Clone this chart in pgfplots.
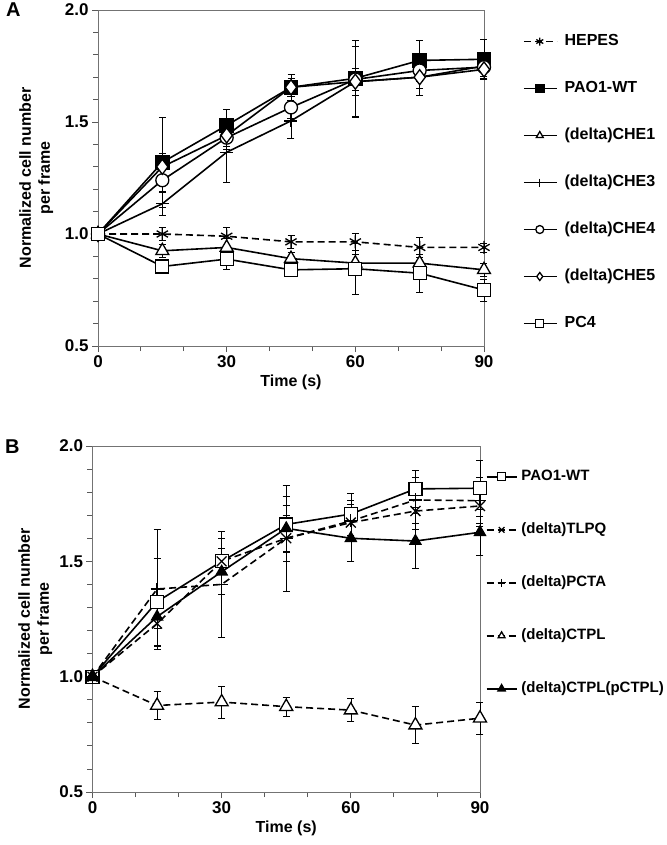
\documentclass[border=0pt]{standalone}
\usepackage{fontspec}
\setmainfont{Liberation Sans}
\usepackage{pgfplots}
\pgfplotsset{compat=1.18}

\pgfplotsset{
  panel/.style={
    scale only axis,
    xmin=0, xmax=90, ymin=0.5, ymax=2,
    xtick={0,30,60,90}, minor xtick={10,20,40,50,70,80},
    ytick={0.5,1,1.5,2},
    minor ytick={0.6,0.7,0.8,0.9,1.1,1.2,1.3,1.4,1.6,1.7,1.8,1.9},
    tick pos=left, tick align=outside,
    major tick length=6pt, minor tick length=5pt,
    every tick/.style={black!65, line width=0.8pt},
    axis line style={black!55, line width=0.8pt},
    /pgf/number format/assume math mode=true,
    yticklabel style={/pgf/number format/.cd, fixed, fixed zerofill, precision=1},
    tick label style={font=\fontsize{17}{17}\selectfont\bfseries},
    label style={font=\fontsize{16}{19}\selectfont\bfseries},
    xlabel={Time (s)},
    ylabel={Normalized cell number\\per frame},
    clip=false,
    legend cell align=left,
    legend style={draw=none, fill=none, inner sep=0pt, outer sep=0pt,
      anchor=north west,
      nodes={inner sep=0pt, text height=12pt, text depth=4pt}},
    legend image post style={mark size=4pt},
  },
  ser/.style={black, line width=1.6pt, mark size=6.5pt,
    mark options={solid, line width=1.3pt, fill=white},
    error bars/y dir=both, error bars/y explicit,
    error bars/error bar style={solid, line width=0.6pt, black},
    error bars/error mark options={rotate=90, mark size=3.5pt, line width=0.6pt, solid}},
  dash/.style={dash pattern=on 7pt off 4pt},
}

\begin{document}
\begin{tikzpicture}
\useasboundingbox (0,0) rectangle (666pt,-845pt);

% ---------------- panel A ----------------
\begin{axis}[panel,
  at={(98pt,-10pt)}, anchor=north west,
  width=386pt, height=336pt,
  ylabel style={align=center, at={(axis description cs:-0.16,0.5)}, anchor=center},
  legend style={at={(axis description cs:1.101,0.93)}, row sep=31pt, column sep=7pt,
    font=\fontsize{16}{16}\selectfont\bfseries},
  legend image code/.code={\draw[mark repeat=2,mark phase=2,#1] plot coordinates {(0pt,0pt) (16pt,0pt) (33pt,0pt)};},
]
\addplot[ser, dash, mark=asterisk, mark size=6.5pt] table[x=t, y=v, y error=e] {
t v e
0 1.00 0
15 1.00 0.03
30 0.99 0.04
45 0.965 0.03
60 0.965 0.04
75 0.94 0.045
90 0.94 0.02
};
\addplot[ser, mark=square*, mark options={fill=black}] table[x=t, y=v, y error=e] {
t v e
0 1.00 0
15 1.32 0.20
30 1.485 0.07
45 1.655 0.06
60 1.695 0.17
75 1.775 0.09
90 1.78 0.09
};
\addplot[ser, mark=triangle*, mark size=7.5pt] table[x=t, y=v, y error=e] {
t v e
0 1.00 0
15 0.925 0.03
30 0.94 0.04
45 0.89 0.03
60 0.87 0.04
75 0.87 0.04
90 0.84 0.03
};
\addplot[ser, mark=+, mark size=6.5pt] table[x=t, y=v, y error=e] {
t v e
0 1.00 0
15 1.135 0.05
30 1.365 0.135
45 1.505 0.08
60 1.68 0.16
75 1.70 0.08
90 1.75 0.06
};
\addplot[ser, mark=*] table[x=t, y=v, y error=e] {
t v e
0 1.00 0
15 1.24 0.05
30 1.43 0.05
45 1.565 0.05
60 1.69 0.05
75 1.73 0.05
90 1.745 0.04
};
\addplot[ser, mark=diamond*, mark size=7.5pt] table[x=t, y=v, y error=e] {
t v e
0 1.00 0
15 1.30 0.06
30 1.44 0.05
45 1.655 0.04
60 1.68 0.06
75 1.70 0.05
90 1.735 0.04
};
\addplot[ser, mark=square*] table[x=t, y=v, y error=e] {
t v e
0 1.00 0
15 0.855 0.03
30 0.888 0.045
45 0.84 0.03
60 0.845 0.115
75 0.825 0.085
90 0.75 0.05
};
\legend{HEPES,PAO1-WT,(delta)CHE1,(delta)CHE3,(delta)CHE4,(delta)CHE5,PC4}
\end{axis}

% ---------------- panel B ----------------
\begin{axis}[panel,
  at={(92.5pt,-446pt)}, anchor=north west,
  width=387.5pt, height=346pt,
  ylabel style={align=center, at={(axis description cs:-0.148,0.5)}, anchor=center},
  legend style={at={(axis description cs:1.015,0.934)}, row sep=37pt, column sep=4pt,
    font=\fontsize{15}{15}\selectfont\bfseries},
  legend image code/.code={\draw[mark repeat=2,mark phase=2,#1] plot coordinates {(0pt,0pt) (15pt,0pt) (30pt,0pt)};},
]
\addplot[ser, mark=square*] table[x=t, y=v, y error=e] {
t v e
0 1.00 0
15 1.325 0.19
30 1.50 0.10
45 1.66 0.12
60 1.705 0.09
75 1.814 0.08
90 1.817 0.12
};
\addplot[ser, dash, mark=x, mark size=7pt] table[x=t, y=v, y error=e] {
t v e
0 1.00 0
15 1.23 0.10
30 1.50 0.10
45 1.60 0.10
60 1.668 0.08
75 1.718 0.08
90 1.74 0.09
};
\addplot[ser, dash, mark=+, mark size=6.5pt] table[x=t, y=v, y error=e] {
t v e
0 1.00 0
15 1.38 0.26
30 1.40 0.23
45 1.60 0.23
60 1.675 0.09
75 1.766 0.10
90 1.763 0.10
};
\addplot[ser, dash, mark=triangle*, mark size=7.5pt] table[x=t, y=v, y error=e] {
t v e
0 1.00 0
15 0.875 0.06
30 0.89 0.07
45 0.87 0.04
60 0.855 0.05
75 0.79 0.08
90 0.82 0.07
};
\addplot[ser, mark=triangle*, mark size=6pt, mark options={fill=black}] table[x=t, y=v, y error=e] {
t v e
0 1.00 0
15 1.26 0.05
30 1.455 0.10
45 1.643 0.10
60 1.60 0.10
75 1.588 0.12
90 1.626 0.10
};
\legend{PAO1-WT,(delta)TLPQ,(delta)PCTA,(delta)CTPL,(delta)CTPL(pCTPL)}
\end{axis}

\node[anchor=north west, inner sep=0pt, font=\fontsize{20}{20}\selectfont\bfseries] at (6pt,-3pt) {A};
\node[anchor=north west, inner sep=0pt, font=\fontsize{20}{20}\selectfont\bfseries] at (5pt,-440pt) {B};
\end{tikzpicture}
\end{document}
